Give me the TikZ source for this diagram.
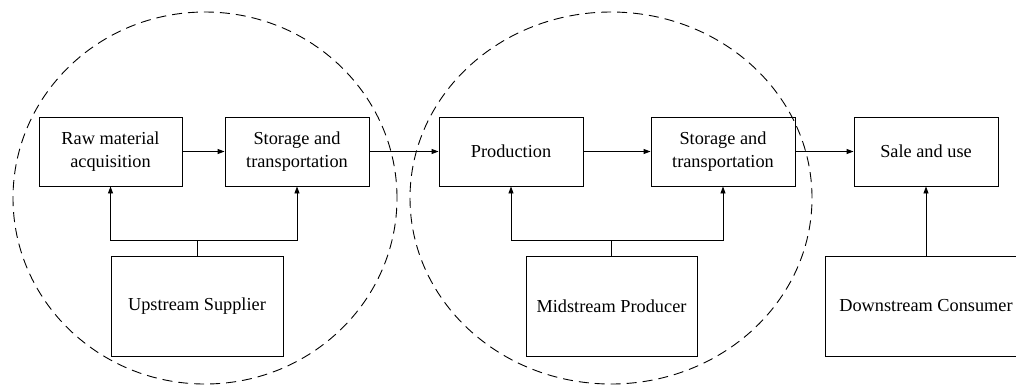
\documentclass[tikz,border=0pt]{standalone}
\usepackage{fontspec}
\setmainfont{Liberation Serif}
\usetikzlibrary{arrows.meta}
\begin{document}
\begin{tikzpicture}[x=1pt,y=-1pt,
  box/.style={draw,line width=0.9pt,minimum height=69pt,align=center,
    font=\fontsize{18.3}{23.5}\selectfont,inner sep=2pt},
  actor/.style={draw,line width=0.9pt,minimum height=100pt,align=center,
    font=\fontsize{18.3}{23.5}\selectfont,inner sep=2pt},
  arr/.style={line width=0.9pt,-{Triangle[length=7pt,width=5pt]}},
  link/.style={line width=0.9pt},
  zone/.style={line width=0.9pt,dash pattern=on 10pt off 6pt}
]
\useasboundingbox (0,0) rectangle (1016,384);
% dashed circles
\draw[zone] (205,198) ellipse [x radius=192pt, y radius=186pt];
\draw[zone] (611,198) ellipse [x radius=201pt, y radius=186pt];
% process boxes
\node[box,minimum width=143pt] (raw) at (110.5,151.5) {Raw material\\acquisition};
\node[box,minimum width=144pt] (st1) at (297,151.5) {Storage and\\transportation};
\node[box,minimum width=144pt] (prod) at (511,151.5) {Production};
\node[box,minimum width=144pt] (st2) at (723,151.5) {Storage and\\transportation};
\node[box,minimum width=144pt] (sale) at (926,151.5) {Sale and use};
% actors
\node[actor,minimum width=172pt] (up) at (197,306) {Upstream Supplier};
\node[actor,minimum width=171pt] (mid) at (611.5,306) {Midstream Producer};
\node[actor,minimum width=202pt] (down) at (926,306) {Downstream Consumer};
% flow arrows
\draw[arr] (raw) -- (st1);
\draw[arr] (st1) -- (prod);
\draw[arr] (prod) -- (st2);
\draw[arr] (st2) -- (sale);
% actor links
\draw[link] (up.north) -- ++(0,-15) coordinate (upb);
\draw[arr] (upb) -| (raw.south);
\draw[arr] (upb) -| (st1.south);
\draw[link] (mid.north) -- ++(0,-15) coordinate (midb);
\draw[arr] (midb) -| (prod.south);
\draw[arr] (midb) -| (st2.south);
\draw[arr] (down.north) -- (sale.south);
\end{tikzpicture}
\end{document}
